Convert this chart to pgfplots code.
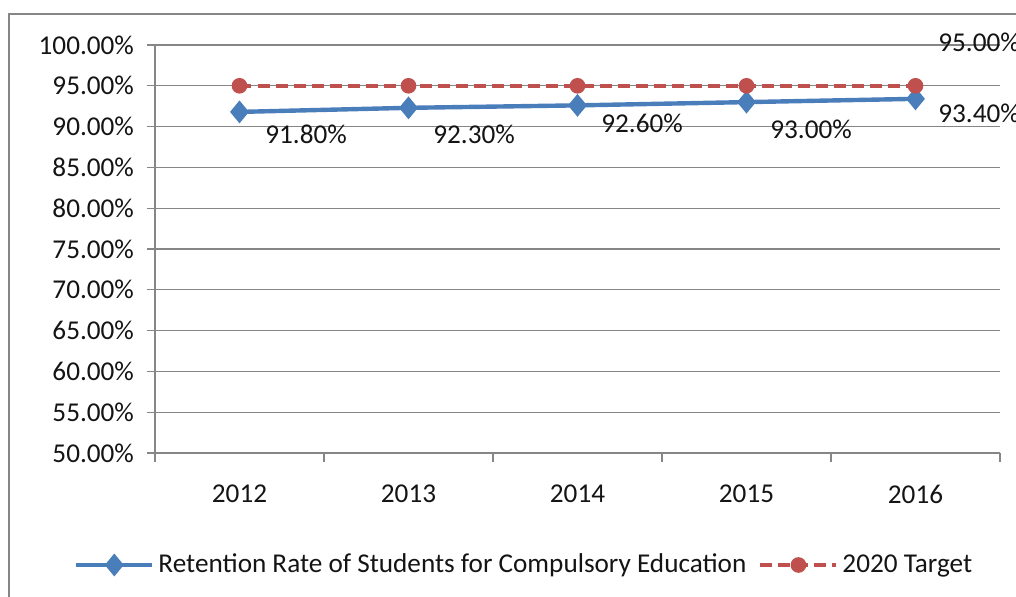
\documentclass[border=0pt]{standalone}
\usepackage{pgfplots}
\pgfplotsset{compat=1.18}
\usepackage{fontspec}
\setmainfont{Carlito}
\definecolor{blueS}{RGB}{74,126,187}
\definecolor{redS}{RGB}{192,80,77}
\definecolor{gridc}{RGB}{134,134,134}
\definecolor{txt}{RGB}{20,20,20}
\begin{document}
\begin{tikzpicture}
\useasboundingbox (-77.5pt,-72pt) rectangle (430.5pt,226.5pt);
\clip (-77.5pt,-72pt) rectangle (430.5pt,226.5pt);
\draw[gridc, line width=1pt] (-73pt,-100pt) -- (-73pt,219.5pt) -- (460pt,219.5pt);
\begin{axis}[
  at={(0pt,0pt)}, anchor=south west,
  scale only axis, width=422.5pt, height=204pt,
  xmin=-0.5, xmax=4.5, ymin=50, ymax=100,
  clip=false,
  axis x line*=bottom, axis y line*=left,
  axis line style={gridc, line width=0.6pt},
  xtick={0,1,2,3,4},
  xticklabels={2012,2013,2014,2015,2016},
  minor xtick={-0.5,0.5,1.5,2.5,3.5,4.5},
  major x tick style={draw=none},
  minor x tick style={gridc, line width=0.6pt},
  minor tick length=4.5pt,
  ytick={50,55,...,100},
  yticklabels={50.00\%,55.00\%,60.00\%,65.00\%,70.00\%,75.00\%,80.00\%,85.00\%,90.00\%,95.00\%,100.00\%},
  major y tick style={gridc, line width=0.6pt},
  major tick length=4pt,
  tick align=outside,
  ymajorgrids, grid style={gridc, line width=0.6pt},
  ticklabel style={font=\fontsize{13.6}{15}\selectfont, text=txt},
  yticklabel style={anchor=east, xshift=-3pt},
  xticklabel style={anchor=center, yshift=-16.5pt},
  legend style={at={(0.438,-0.2745)}, anchor=center, draw=none, fill=none,
    legend columns=2, font=\fontsize{13.6}{15}\selectfont, text=txt,
    /tikz/every even column/.append style={column sep=4pt}},
  legend image code/.code={\draw[mark repeat=2,mark phase=2] plot coordinates {(0pt,0pt) (19pt,0pt) (38pt,0pt)};},
]
\addplot[blueS, line width=2.2pt, mark=diamond*, mark size=4pt, mark options={solid, xscale=1.1}]
  coordinates {(0,91.8) (1,92.3) (2,92.6) (3,93.0) (4,93.4)};
\addlegendentry{Retention Rate of Students for Compulsory Education}
\addplot[redS, line width=2pt, dash pattern=on 6pt off 3pt, mark=*, mark size=2.9pt, mark options={solid}]
  coordinates {(0,95) (1,95) (2,95) (3,95) (4,95)};
\addlegendentry{2020 Target}
\begin{scope}[font=\fontsize{13.6}{15}\selectfont, text=txt]
\node[anchor=west, inner sep=0pt] at (axis cs:0.151,89.1) {91.80\%};
\node[anchor=west, inner sep=0pt] at (axis cs:1.145,89.1) {92.30\%};
\node[anchor=west, inner sep=0pt] at (axis cs:2.139,90.44) {92.60\%};
\node[anchor=west, inner sep=0pt] at (axis cs:3.139,89.71) {93.00\%};
\node[anchor=west, inner sep=0pt] at (axis cs:4.133,91.67) {93.40\%};
\node[anchor=west, inner sep=0pt] at (axis cs:4.133,100.37) {95.00\%};
\end{scope}
\end{axis}
\end{tikzpicture}
\end{document}
